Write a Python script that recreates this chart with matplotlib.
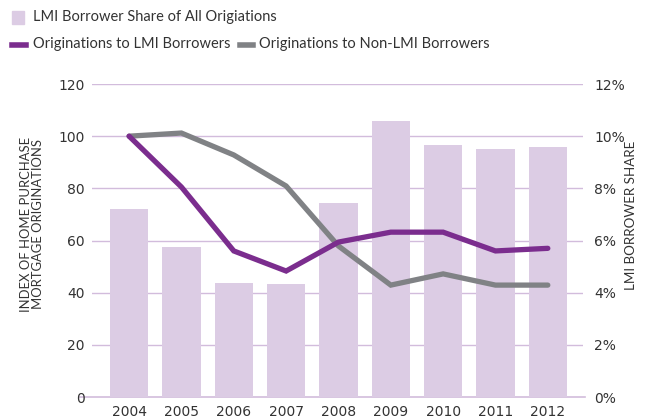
import matplotlib.pyplot as plt
from matplotlib import ticker
from matplotlib.patches import Rectangle
from matplotlib.lines import Line2D

years = ["2004", "2005", "2006", "2007", "2008", "2009", "2010", "2011", "2012"]
lmi_share = [7.2, 5.75, 4.37, 4.33, 7.44, 10.58, 9.68, 9.52, 9.6]
lmi_index = [100, 80.5, 56, 48.3, 59.4, 63.2, 63.2, 56, 57]
non_lmi_index = [100, 101.2, 92.8, 80.9, 57.9, 42.9, 47.2, 42.9, 42.9]

BAR_COLOR = "#dccce4"
PURPLE = "#7b2d8e"
GRAY = "#808285"
GRID_COLOR = "#d2bcdc"
TEXT_COLOR = "#333333"

# ticks in DejaVu, titles/legend in Lato
plt.rcParams["font.family"] = ["DejaVu Sans"]
LABEL_FONT = ["Lato", "DejaVu Sans"]

fig = plt.figure(figsize=(6.52, 4.19), dpi=100)
ax2 = fig.add_axes([0.141, 0.0525, 0.753, 0.747])
ax = ax2.twinx()
ax.set_zorder(ax2.get_zorder() + 1)
ax.patch.set_visible(False)

x = range(len(years))

# bars on right axis (share)
ax2.bar(x, lmi_share, width=0.73, color=BAR_COLOR, zorder=2)
ax2.set_ylim(0, 12)
ax2.set_xlim(-0.71, 8.67)
for v in range(2, 13, 2):
    ax2.axhline(v, color=GRID_COLOR, lw=1, zorder=1)
ax2.plot([-0.025, 1.005], [0, 0], transform=ax2.transAxes, color=GRID_COLOR,
         lw=1.2, clip_on=False, zorder=1)

# lines on the index scale
ax.plot(x, non_lmi_index, color=GRAY, lw=3.8, solid_capstyle="round",
        solid_joinstyle="miter", zorder=3)
ax.plot(x, lmi_index, color=PURPLE, lw=3.8, solid_capstyle="round",
        solid_joinstyle="miter", zorder=4)
ax.set_ylim(0, 120)

# left ticks show the index, right ticks show the share
ax2.yaxis.tick_right()
ax2.yaxis.set_label_position("right")
ax.yaxis.tick_left()
ax.yaxis.set_label_position("left")

ax.set_yticks(range(0, 121, 20))
ax2.set_yticks(range(0, 13, 2))
ax2.yaxis.set_major_formatter(ticker.FuncFormatter(lambda v, p: f"{v:.0f}%"))
ax2.set_xticks(list(x))
ax2.set_xticklabels(years)

for a in (ax, ax2):
    for s in a.spines.values():
        s.set_visible(False)
    a.tick_params(length=0, labelsize=10, colors=TEXT_COLOR)
ax.tick_params(axis="y", pad=5)
ax2.tick_params(axis="y", pad=8)
ax2.tick_params(axis="x", pad=6)

fig.text(0.049, 0.465, "INDEX OF HOME PURCHASE\nMORTGAGE ORIGINATIONS",
         rotation=90, ha="center", va="center", fontsize=9.4,
         color=TEXT_COLOR, linespacing=0.95, family=LABEL_FONT)
fig.text(0.968, 0.487, "LMI BORROWER SHARE", rotation=90, ha="center",
         va="center", fontsize=9.6, color=TEXT_COLOR, family=LABEL_FONT)

# legend drawn by hand at the top
fig.patches.append(Rectangle((12 / 652, 1 - 24 / 419), 12 / 652, 13 / 419,
                             transform=fig.transFigure, color=BAR_COLOR))
fig.text(33 / 652, 1 - 17 / 419, "LMI Borrower Share of All Origiations",
         va="center", fontsize=10.5, color=TEXT_COLOR, family=LABEL_FONT)
fig.lines.append(Line2D([12 / 652, 26 / 652], [1 - 45 / 419] * 2, lw=4,
                        color=PURPLE, transform=fig.transFigure))
fig.text(33 / 652, 1 - 44 / 419, "Originations to LMI Borrowers",
         va="center", fontsize=10.5, color=TEXT_COLOR, family=LABEL_FONT)
fig.lines.append(Line2D([240 / 652, 253 / 652], [1 - 45 / 419] * 2, lw=4,
                        color=GRAY, transform=fig.transFigure))
fig.text(259 / 652, 1 - 44 / 419, "Originations to Non-LMI Borrowers",
         va="center", fontsize=10.5, color=TEXT_COLOR, family=LABEL_FONT)

fig.savefig("out.png", dpi=100)
